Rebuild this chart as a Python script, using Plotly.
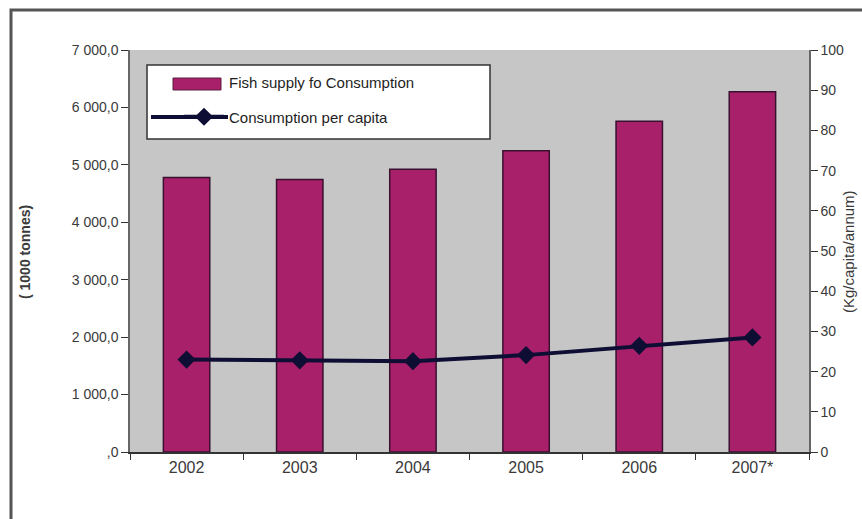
import plotly.graph_objects as go

years = ["2002", "2003", "2004", "2005", "2006", "2007*"]
supply = [4780, 4746, 4922, 5244, 5761, 6272]
per_capita = [23.0, 22.8, 22.6, 24.1, 26.4, 28.5]
left_tickvals = [0, 1000, 2000, 3000, 4000, 5000, 6000, 7000]
left_ticktext = [",0", "1 000,0", "2 000,0", "3 000,0", "4 000,0", "5 000,0", "6 000,0", "7 000,0"]
right_tickvals = [0, 10, 20, 30, 40, 50, 60, 70, 80, 90, 100]

FONT = "Liberation Sans, Arial, sans-serif"
TXT = "#3a3a3a"
BAR = "#a8206a"
LINE = "#0e0e34"

fig = go.Figure()
fig.add_trace(go.Bar(
    x=years, y=supply, name="Fish supply fo Consumption",
    marker=dict(color=BAR, line=dict(color="#3a1030", width=1.5)),
    width=0.41, legendgroup="a", showlegend=False,
))
# legend-only entry; its symbol is replaced by a wider swatch shape
fig.add_trace(go.Bar(
    x=[None], y=[None], name="Fish supply fo Consumption",
    marker=dict(color="rgba(0,0,0,0)", line=dict(width=0)),
    legendgroup="a", showlegend=True,
))
fig.add_trace(go.Scatter(
    x=years, y=per_capita, name="Consumption per capita", yaxis="y2",
    mode="lines+markers",
    line=dict(color=LINE, width=4),
    marker=dict(symbol="diamond", size=14, color=LINE),
    legendgroup="b",
))

W, H = 862, 519
L, R, T, B = 130, 53, 50, 67
pw, ph = W - L - R, H - T - B

def px(x):
    return (x - L) / pw

def py(y):
    return (H - B - y) / ph

shapes = [
    # outer frame
    dict(type="rect", xref="paper", yref="paper", x0=px(11), x1=px(880), y0=py(10), y1=py(540),
         line=dict(color="#555555", width=3), fillcolor="rgba(0,0,0,0)", layer="below"),
    # legend box
    dict(type="rect", xref="paper", yref="paper", x0=px(147), x1=px(490), y0=py(65), y1=py(139),
         line=dict(color="#333333", width=1.5), fillcolor="white", layer="above"),
    # legend swatches (wider than plotly's default symbols)
    dict(type="rect", xref="paper", yref="paper", x0=px(173), x1=px(221), y0=py(78), y1=py(90),
         line=dict(color="#5a2040", width=1), fillcolor=BAR, layer="above"),
    dict(type="line", xref="paper", yref="paper", x0=px(151), x1=px(228), y0=py(117), y1=py(117),
         line=dict(color=LINE, width=4), layer="above"),
]

fig.update_layout(
    width=W, height=H,
    margin=dict(l=L, r=R, t=T, b=B),
    paper_bgcolor="white",
    plot_bgcolor="#c6c6c6",
    font=dict(family=FONT, color=TXT),
    bargap=0.59,
    showlegend=True,
    legend=dict(
        x=px(179), y=py(66), xanchor="left", yanchor="top",
        bgcolor="rgba(0,0,0,0)", borderwidth=0,
        font=dict(size=15, color="#1e1e1e", family=FONT),
        tracegroupgap=12, itemwidth=40, traceorder="grouped",
    ),
    xaxis=dict(
        type="category", showline=True, linecolor="#333333", linewidth=1.5,
        ticks="outside", tickson="boundaries", ticklen=6, tickcolor="#333333",
        tickfont=dict(size=16, color=TXT), showgrid=False,
    ),
    yaxis=dict(
        range=[0, 7000], tickvals=left_tickvals, ticktext=left_ticktext,
        showline=True, linecolor="#666666", linewidth=1.5,
        ticks="outside", ticklen=7, tickcolor="#333333",
        tickfont=dict(size=14, color=TXT), showgrid=False, zeroline=False,
    ),
    yaxis2=dict(
        range=[0, 100], tickvals=right_tickvals, overlaying="y", side="right",
        showline=True, linecolor="#666666", linewidth=1.5,
        ticks="outside", ticklen=7, tickcolor="#333333",
        tickfont=dict(size=14, color=TXT), showgrid=False, zeroline=False,
    ),
    shapes=shapes,
    annotations=[
        dict(text="<b>( 1000 tonnes)</b>", textangle=-90, xref="paper", yref="paper",
             x=px(25), y=py(252), xanchor="center", yanchor="middle",
             showarrow=False, font=dict(size=14, color=TXT)),
        dict(text="(Kg/capita/annum)", textangle=-90, xref="paper", yref="paper",
             x=px(848), y=py(252), xanchor="center", yanchor="middle",
             showarrow=False, font=dict(size=15, color=TXT)),
    ],
)

fig.write_html("out.html")
